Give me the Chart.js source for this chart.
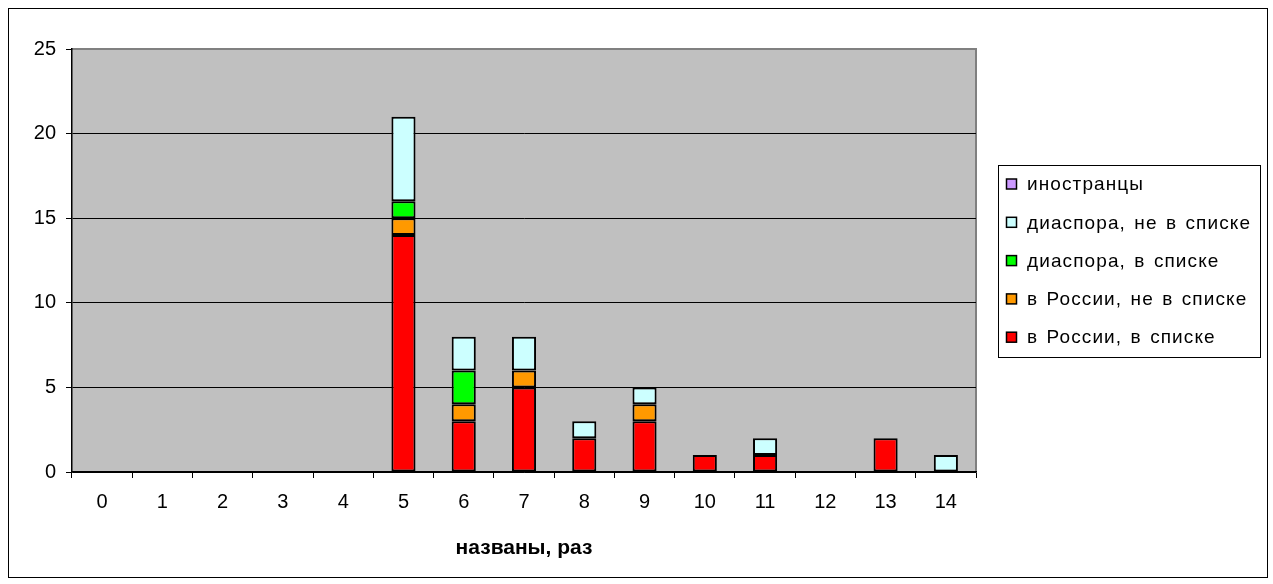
<!DOCTYPE html>
<html>
<head>
<meta charset="utf-8">
<script src="https://cdn.jsdelivr.net/npm/chart.js@4/dist/chart.umd.min.js"></script>
<style>
  body { margin: 0; background: #fff; }
  #frame {
    position: absolute; left: 8px; top: 8px;
    width: 1260px; height: 570px;
    border: 1px solid #000; box-sizing: border-box;
  }
  canvas { display: block; }
</style>
</head>
<body>
<div id="frame"><canvas id="chart" width="1258" height="568"></canvas></div>
<script>
// times named (x axis categories)
const categories = ['0','1','2','3','4','5','6','7','8','9','10','11','12','13','14'];

// series, bottom to top in the stack
const russiaListed   = [0,0,0,0,0,14,3,5,2,3,1,1,0,2,0];
const russiaUnlisted = [0,0,0,0,0, 1,1,1,0,1,0,0,0,0,0];
const diasporaListed = [0,0,0,0,0, 1,2,0,0,0,0,0,0,0,0];
const diasporaUnlisted = [0,0,0,0,0,5,2,2,1,1,0,1,0,0,1];
const foreigners     = [0,0,0,0,0, 0,0,0,0,0,0,0,0,0,0];

const yTicks = [0, 5, 10, 15, 20, 25];

const FONT = 'Liberation Sans, Arial, sans-serif';

// gray plot background + border
const plotBg = {
  id: 'plotBg',
  beforeDraw(chart) {
    const { ctx, chartArea: a } = chart;
    ctx.save();
    ctx.fillStyle = '#C0C0C0';
    ctx.fillRect(a.left, a.top, a.right - a.left, a.bottom - a.top);
    ctx.strokeStyle = '#808080';
    ctx.lineWidth = 2;
    ctx.beginPath();
    ctx.moveTo(a.left, a.top);
    ctx.lineTo(a.right, a.top);
    ctx.lineTo(a.right, a.bottom);
    ctx.stroke();
    ctx.restore();
  }
};

// boxed legend on the right, top item = last dataset
const boxLegend = {
  id: 'boxLegend',
  afterDraw(chart) {
    const ctx = chart.ctx;
    const x = 989.5, y = 156.5, w = 262, h = 192;
    ctx.save();
    ctx.strokeStyle = '#000';
    ctx.lineWidth = 1;
    ctx.strokeRect(x, y, w, h);
    ctx.font = '19px ' + FONT;
    ctx.letterSpacing = '1.1px';
    ctx.wordSpacing = '2px';
    ctx.textBaseline = 'middle';
    const sets = chart.data.datasets.slice().reverse();
    sets.forEach((ds, i) => {
      const cy = 175 + i * 38.3;
      ctx.fillStyle = ds.backgroundColor;
      ctx.fillRect(997.5, cy - 5, 10, 10);
      ctx.strokeStyle = '#000';
      ctx.lineWidth = 1.5;
      ctx.strokeRect(997.5, cy - 5, 10, 10);
      ctx.fillStyle = '#000';
      ctx.fillText(ds.label, 1018, cy + 1);
    });
    ctx.restore();
  }
};

const common = { borderColor: '#000', borderWidth: 2, borderSkipped: false };

new Chart(document.getElementById('chart'), {
  type: 'bar',
  data: {
    labels: categories,
    datasets: [
      { label: 'в России, в списке', data: russiaListed, backgroundColor: '#FF0000', ...common },
      { label: 'в России, не в списке', data: russiaUnlisted, backgroundColor: '#FF9900', ...common },
      { label: 'диаспора, в списке', data: diasporaListed, backgroundColor: '#00FF00', ...common },
      { label: 'диаспора, не в списке', data: diasporaUnlisted, backgroundColor: '#CCFFFF', ...common },
      { label: 'иностранцы', data: foreigners, backgroundColor: '#CC99FF', ...common }
    ]
  },
  options: {
    responsive: false,
    animation: false,
    layout: { padding: { top: 40, right: 291, bottom: 0, left: 0 } },
    datasets: { bar: { barPercentage: 0.4, categoryPercentage: 1.0 } },
    plugins: {
      legend: { display: false },
      tooltip: { enabled: false }
    },
    scales: {
      x: {
        stacked: true,
        afterFit: s => { s.height = 105; },
        grid: {
          offset: true,
          drawOnChartArea: false,
          drawTicks: true,
          tickLength: 6,
          color: '#000'
        },
        border: { color: '#000', width: 1.5 },
        ticks: { color: '#000', font: { family: FONT, size: 20 }, padding: 12, maxRotation: 0 },
        title: {
          display: true,
          text: 'названы, раз',
          color: '#000',
          font: { family: FONT, size: 21, weight: 'bold' },
          padding: { top: 0, bottom: 16 }
        }
      },
      y: {
        stacked: true,
        min: 0,
        max: 25,
        afterFit: s => { s.width = 63; },
        afterBuildTicks: s => { s.ticks = yTicks.map(v => ({ value: v })); },
        grid: {
          color: ctx => (ctx.tick && ctx.tick.value === 25) ? 'rgba(0,0,0,0)' : '#000',
          lineWidth: 1,
          tickLength: 6,
          tickColor: '#000'
        },
        border: { color: '#000', width: 1.5 },
        ticks: { color: '#000', font: { family: FONT, size: 20 }, padding: 10 }
      }
    }
  },
  plugins: [plotBg, boxLegend]
});
</script>
</body>
</html>
